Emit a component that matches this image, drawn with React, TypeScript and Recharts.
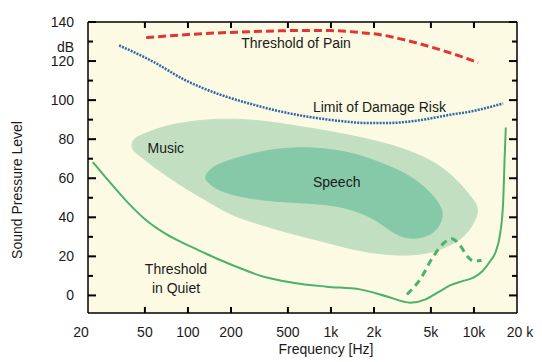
import React from 'react';
import { LineChart, Line, XAxis, YAxis, CartesianGrid, ReferenceDot } from 'recharts';

const freqTicks = [20, 50, 100, 200, 500, 1000, 2000, 5000, 10000, 20000];
const freqTickLabels = ['20', '50', '100', '200', '500', '1k', '2k', '5k', '10k', '20 k'];
const dbTicks = [0, 10, 20, 30, 40, 50, 60, 70, 80, 90, 100, 110, 120, 130, 140];

// Threshold of pain (red dashed)
const painFreq = [51, 100, 220, 400, 650, 1000, 1600, 2300, 3000, 4200, 5800, 8000, 10700];
const painDb = [132, 133.6, 134.8, 135.4, 135.7, 135.6, 134.6, 133.3, 131.5, 128.8, 125.8, 122.5, 119.2];

// Limit of damage risk (blue dotted)
const damageFreq = [33, 56, 97, 165, 283, 490, 800, 1200, 1750, 2500, 4000, 6800, 10000, 13000, 16000];
const damageDb = [128, 120, 110, 103, 97.8, 93.5, 90.8, 89.2, 88.3, 88.3, 89.5, 92.5, 94.5, 96.5, 98.3];

// Threshold in quiet (green solid)
const quietFreq = [21.6, 28, 38, 51, 70, 97, 130, 165, 240, 330, 540, 930, 1600, 2500, 3570, 4600, 5600, 6800, 8300, 9900, 11500, 13000, 14300, 15200, 16000, 16400, 16700];
const quietDb = [68.3, 58.5, 47.5, 38.5, 31.5, 26.1, 21.8, 18.4, 13.5, 9.8, 6.5, 4.5, 3.1, -0.7, -3.7, -2, 1.5, 5.1, 7.3, 9.1, 12.5, 17.6, 23, 31, 47.6, 71, 86];

// masking bump (green dashed)
const bumpFreq = [3400, 4200, 5200, 6200, 7000, 8000, 9000, 10000, 11300];
const bumpDb = [0.5, 8.2, 20, 27, 29, 25.5, 20, 17.5, 18];

// music region outline (closed loop)
const musicFreq = [41, 43, 55, 70, 120, 200, 350, 600, 1000, 1700, 2700, 4000, 5500, 7000, 8500, 9500, 10400, 10700, 10200, 9400, 8300, 7000, 5200, 3500, 2300, 1400, 850, 500, 300, 200, 140, 100, 75, 55, 46, 40];
const musicDb = [79, 81, 84, 87, 89.8, 90.6, 89.3, 86.5, 84, 80.5, 77, 72.5, 67.5, 61.5, 55, 50.5, 47, 43, 38.5, 34, 29.5, 26, 22, 20.3, 21, 23.5, 28, 32, 37, 41, 48, 54, 60, 67, 71.5, 75];

// speech region outline (closed loop)
const speechFreq = [128, 150, 210, 350, 600, 1000, 1600, 2700, 3600, 4600, 5500, 6200, 5700, 5000, 4000, 3200, 2600, 2100, 1500, 1000, 600, 350, 230, 160, 140];
const speechDb = [60.5, 66.5, 70, 74.5, 76, 75, 72, 65.5, 61, 55, 49, 42, 35, 31, 29, 29.5, 33, 38.5, 43.5, 46.5, 47.5, 48.5, 50.5, 54, 57.5];

const zip = (fs: number[], ds: number[]) => fs.map((f, i) => ({ f, db: ds[i] }));

const pain = zip(painFreq, painDb);
const damage = zip(damageFreq, damageDb);
const quiet = zip(quietFreq, quietDb);
const bump = zip(bumpFreq, bumpDb);
const music = zip(musicFreq, musicDb);
const speech = zip(speechFreq, speechDb);

const FONT = '"Liberation Sans", Arial, sans-serif';
const TEXT = '#1a1a1a';

const LeftTick = (props: any) => {
  const { x, y, payload } = props;
  const v = payload.value;
  const major = v % 20 === 0;
  const label = v === 130 ? 'dB' : major ? String(v) : '';
  const len = major ? 8 : 5;
  return (
    <g>
      <line x1={x + 14} x2={x + 14 + len} y1={y} y2={y} stroke="#000" strokeWidth={2} />
      {label && (
        <text x={x} y={v === 130 ? y + 10 : y + 5} textAnchor="end" fontSize={14} fontFamily={FONT} fill={TEXT}>
          {label}
        </text>
      )}
    </g>
  );
};

const RightTick = (props: any) => {
  const { x, y, payload } = props;
  const len = payload.value % 20 === 0 ? 8 : 5;
  return <line x1={x} x2={x - len} y1={y} y2={y} stroke="#000" strokeWidth={2} />;
};

const BottomTick = (props: any) => {
  const { x, y, payload, index } = props;
  const v = payload.value;
  const edge = v === 20 || v === 20000;
  const dx = v === 20 ? -7 : v === 20000 ? 3 : 0;
  return (
    <g>
      {!edge && <line x1={x} x2={x} y1={y} y2={y - 6} stroke="#000" strokeWidth={2} />}
      <text x={x + dx} y={y + 24} textAnchor="middle" fontSize={14} fontFamily={FONT} fill={TEXT}>
        {freqTickLabels[index]}
      </text>
    </g>
  );
};

const TopTick = (props: any) => {
  const { x, y, payload } = props;
  const v = payload.value;
  if (v === 20 || v === 20000) return <g />;
  return <line x1={x} x2={x} y1={y} y2={y + 6} stroke="#000" strokeWidth={2} />;
};

const YTitle = () => (
  <text x={22} y={190} transform="rotate(-90 22 190)" textAnchor="middle" fontSize={14} fontFamily={FONT} fill={TEXT}>
    Sound Pressure Level
  </text>
);

const XTitle = () => (
  <text x={326} y={354} textAnchor="middle" fontSize={14} fontFamily={FONT} fill={TEXT}>
    Frequency [Hz]
  </text>
);

const textLabel = (value: string) => ({ value, position: 'center' as const, fontSize: 14, fontFamily: FONT, fill: TEXT });

export default function App() {
  const axisLine = { stroke: '#000', strokeWidth: 1.5 };
  return (
    <div style={{ width: 542, height: 362, background: '#fff', fontFamily: FONT }}>
      <style>{`
        body { margin: 0; }
        .music-area .recharts-line-curve { fill: #c3dfc1; }
        .speech-area .recharts-line-curve { fill: #86c9a9; }
      `}</style>
      <LineChart width={542} height={362} margin={{ top: 21, right: 24, bottom: 29, left: 74 }}>
        <CartesianGrid fill="#fcfae3" horizontal={false} vertical={false} stroke="none" />
        <Line className="music-area" data={music} dataKey="db" type="basisClosed" stroke="#c3dfc1" strokeWidth={1} dot={false} activeDot={false} isAnimationActive={false} />
        <Line className="speech-area" data={speech} dataKey="db" type="basisClosed" stroke="#86c9a9" strokeWidth={1} dot={false} activeDot={false} isAnimationActive={false} />
        <Line data={pain} dataKey="db" type="monotone" stroke="#e03535" strokeWidth={3} strokeDasharray="8 4" dot={false} activeDot={false} isAnimationActive={false} />
        <Line data={damage} dataKey="db" type="monotone" stroke="#2f67aa" strokeWidth={2.5} strokeDasharray="2 1.2" dot={false} activeDot={false} isAnimationActive={false} />
        <Line data={quiet} dataKey="db" type="monotone" stroke="#4cb16b" strokeWidth={2} dot={false} activeDot={false} isAnimationActive={false} />
        <Line data={bump} dataKey="db" type="monotone" stroke="#4cb16b" strokeWidth={3} strokeDasharray="7 5" dot={false} activeDot={false} isAnimationActive={false} />
        <ReferenceDot x={570} y={129.3} r={0} fill="none" stroke="none" label={textLabel('Threshold of Pain')} />
        <ReferenceDot x={2183} y={96.6} r={0} fill="none" stroke="none" label={textLabel('Limit of Damage Risk')} />
        <ReferenceDot x={70} y={75.6} r={0} fill="none" stroke="none" label={textLabel('Music')} />
        <ReferenceDot x={1097} y={58} r={0} fill="none" stroke="none" label={textLabel('Speech')} />
        <ReferenceDot x={82.5} y={13.3} r={0} fill="none" stroke="none" label={textLabel('Threshold')} />
        <ReferenceDot x={82.5} y={3.9} r={0} fill="none" stroke="none" label={textLabel('in Quiet')} />
        <XAxis dataKey="f" type="number" scale="log" domain={[20, 20000]} ticks={freqTicks} interval={0} allowDataOverflow height={20} tickSize={0} tickMargin={0} tickLine={false} axisLine={axisLine} tick={<BottomTick />} label={<XTitle />} />
        <XAxis xAxisId="top" orientation="top" dataKey="f" type="number" scale="log" domain={[20, 20000]} ticks={freqTicks} interval={0} allowDataOverflow height={1} tickSize={0} tickMargin={0} tickLine={false} axisLine={axisLine} tick={<TopTick />} />
        <YAxis type="number" domain={[-9, 140]} ticks={dbTicks} interval={0} allowDataOverflow width={14} tickSize={0} tickMargin={14} tickLine={false} axisLine={axisLine} tick={<LeftTick />} label={<YTitle />} />
        <YAxis yAxisId="right" orientation="right" type="number" domain={[-9, 140]} ticks={dbTicks} interval={0} allowDataOverflow width={1} tickSize={0} tickMargin={0} tickLine={false} axisLine={axisLine} tick={<RightTick />} />
      </LineChart>
    </div>
  );
}
